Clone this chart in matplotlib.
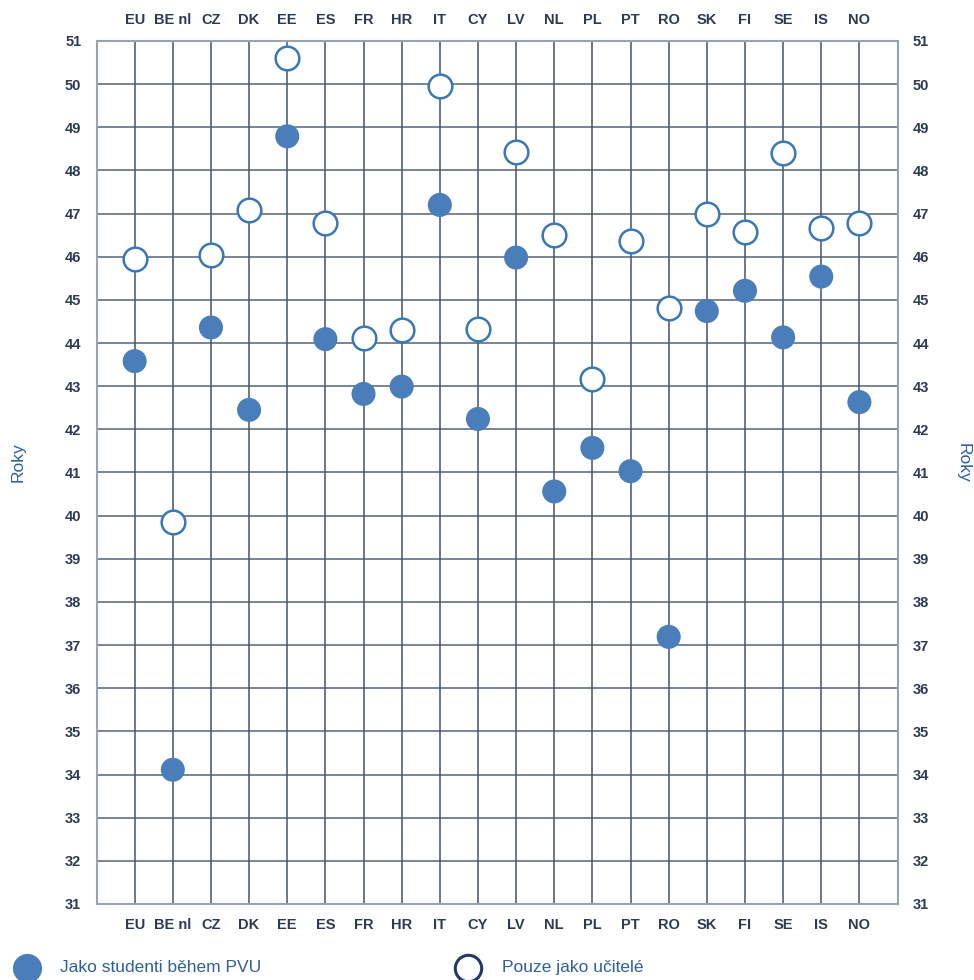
import matplotlib
matplotlib.use("Agg")
import matplotlib.pyplot as plt
from matplotlib.lines import Line2D

countries = ["EU", "BE nl", "CZ", "DK", "EE", "ES", "FR", "HR", "IT", "CY",
             "LV", "NL", "PL", "PT", "RO", "SK", "FI", "SE", "IS", "NO"]
as_students = [43.58, 34.11, 44.36, 42.45, 48.79, 44.09, 42.82, 42.99, 47.20, 42.24,
               45.98, 40.56, 41.57, 41.03, 37.19, 44.74, 45.21, 44.13, 45.54, 42.63]
teachers_only = [45.94, 39.85, 46.03, 47.08, 50.61, 46.79, 44.11, 44.30, 49.96, 44.33,
                 48.43, 46.50, 43.17, 46.37, 44.81, 46.98, 46.58, 48.40, 46.66, 46.77]
y_ticks = list(range(31, 52))
y_label = "Roky"
legend_labels = ["Jako studenti během PVU", "Pouze jako učitelé"]

FILL = "#4a7ebb"
EDGE = "#3a78b5"
GRID = "#44536a"
TICK = "#2b3a55"
LABEL = "#2f5f9f"

plt.rcParams["font.family"] = ["Liberation Sans", "DejaVu Sans"]

fig = plt.figure(figsize=(9.74, 9.80), dpi=100)
ax = fig.add_axes([0.0991, 0.0776, 0.8224, 0.8806])

x = list(range(len(countries)))
ax.set_xlim(-1, len(countries))
ax.set_ylim(31, 51)

# grid: one vertical line per country, one horizontal per year
for xi in x:
    ax.axvline(xi, color=GRID, lw=1.1, zorder=1)
for yv in y_ticks:
    ax.axhline(yv, color=GRID, lw=1.1, alpha=0.9, zorder=1)

ax.scatter(x, as_students, s=300, color=FILL, edgecolor="none", zorder=3)
ax.scatter(x, teachers_only, s=290, facecolor="white", edgecolor=EDGE,
           linewidth=1.8, zorder=3)

for side in ["left", "right", "top", "bottom"]:
    ax.spines[side].set_color("#9aa3b0")
    ax.spines[side].set_linewidth(1.5)

ax.set_xticks(x)
ax.set_xticklabels(countries)
ax.set_yticks(y_ticks)
ax.tick_params(axis="both", length=0, labelsize=10.5, labelcolor=TICK)
ax.tick_params(axis="x", pad=10, top=True, labeltop=True)
ax.tick_params(axis="y", pad=11, right=True, labelright=True)
for t in ax.xaxis.get_major_ticks() + ax.yaxis.get_major_ticks():
    for lab in (t.label1, t.label2):
        lab.set_fontweight("bold")

fig.text(0.019, 0.528, y_label, rotation=90, ha="center", va="center",
         fontsize=12.5, color=LABEL)
fig.text(0.989, 0.528, y_label, rotation=-90, ha="center", va="center",
         fontsize=12.5, color=LABEL)

# legend row under the chart
fig.add_artist(Line2D([0.028], [0.0125], marker="o", markersize=21,
                      color=FILL, markeredgecolor="none", linestyle="none",
                      transform=fig.transFigure))
fig.text(0.062, 0.0125, legend_labels[0], ha="left", va="center",
         fontsize=12.5, color=LABEL)
fig.add_artist(Line2D([0.481], [0.0125], marker="o", markersize=19,
                      markerfacecolor="white", markeredgecolor="#1f3a6a",
                      markeredgewidth=2.2, linestyle="none",
                      transform=fig.transFigure))
fig.text(0.515, 0.0125, legend_labels[1], ha="left", va="center",
         fontsize=12.5, color=LABEL)

fig.savefig("out.png", dpi=100, facecolor="white")
